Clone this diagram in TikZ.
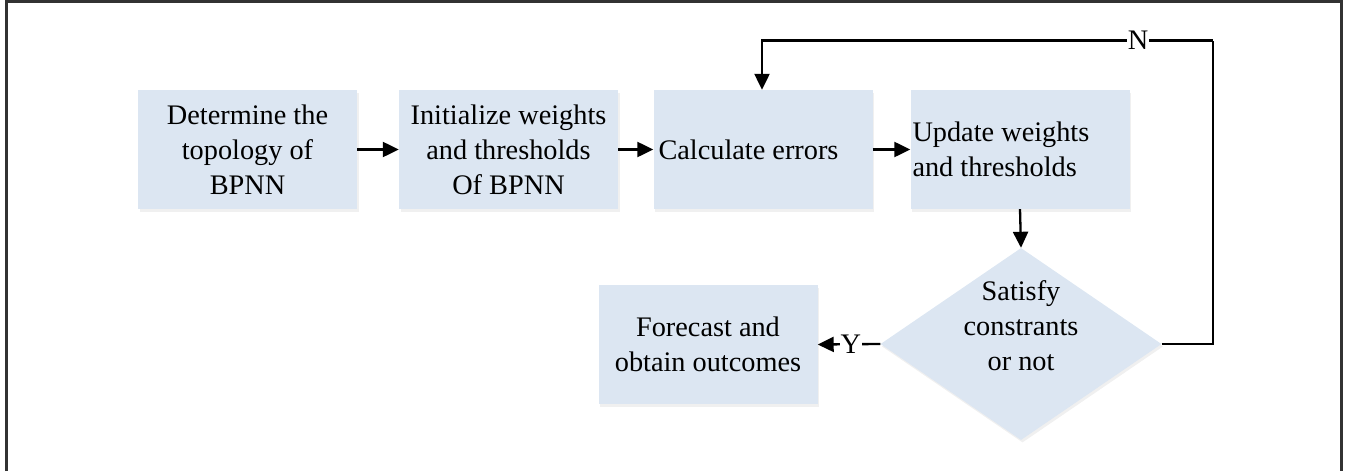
\documentclass[tikz,border=0pt]{standalone}
\usepackage{fontspec}
\setmainfont{Liberation Serif}
\usetikzlibrary{arrows.meta,shapes.geometric,shadows}
\definecolor{boxfill}{RGB}{220,230,242}
\definecolor{framecol}{RGB}{50,50,50}
\begin{document}
\begin{tikzpicture}[x=1pt,y=-1pt,
  txt/.style={font=\fontsize{28.3}{35}\selectfont},
  procbox/.style={rectangle, fill=boxfill, inner sep=0pt, minimum width=219pt, minimum height=119pt,
     drop shadow={opacity=0.12, shadow xshift=1.5pt, shadow yshift=-2.5pt}, txt},
  decbox/.style={diamond, fill=boxfill, inner sep=0pt, minimum width=281pt, minimum height=192pt,
     drop shadow={opacity=0.12, shadow xshift=1.5pt, shadow yshift=-2.5pt}},
  flow/.style={line width=2.3pt, -{Triangle[length=16pt,width=15pt]}},
  plain/.style={line width=2.3pt},
  lbl/.style={txt, fill=white, inner sep=1pt}
]
\useasboundingbox (0,0) rectangle (1346,471);
\draw[line width=2.2pt, framecol] (6.5,471) -- (6.5,1.5) -- (1341.5,1.5) -- (1341.5,471);

\node[procbox, align=center] (b1) at (247.5,149.5) {Determine the\\topology of\\BPNN};
\node[procbox, align=center] (b2) at (508.5,149.5) {Initialize weights\\and thresholds\\Of BPNN};
\node[procbox] (b3) at (763,149.5) {};
\node[txt, anchor=west, inner sep=0pt] (t3) at ([xshift=5pt]b3.west) {Calculate errors};
\node[procbox] (b4) at (1020,149.5) {};
\node[txt, anchor=west, inner sep=0pt, align=left] (t4) at ([xshift=2pt]b4.west) {Update weights\\and thresholds};
\node[decbox] (d) at (1021,344) {};
\node[txt, align=center] (dt) at (1021,326) {Satisfy\\constrants\\or not};
\node[procbox, align=center] (b5) at (708,344.5) {Forecast and\\obtain outcomes};

\coordinate (c1) at (1213,344);
\coordinate (c2) at (1213,40.5);
\coordinate (c3) at (762,40.5);

\draw[flow] (b1) -- (b2);
\draw[flow] (b2) -- (b3);
\draw[flow] (b3) -- (b4);
\draw[flow] (b4.south) -- (d.north);
\draw[flow] (d.west) -- node[lbl, pos=0.47] (yl) {Y} (b5.east);
\draw[plain] (d.east) -- (c1) -- (c2);
\draw[flow] (c2) -- node[lbl, pos=0.166] (nl) {N} (c3) -- (c3 |- b3.north);
\end{tikzpicture}
\end{document}
